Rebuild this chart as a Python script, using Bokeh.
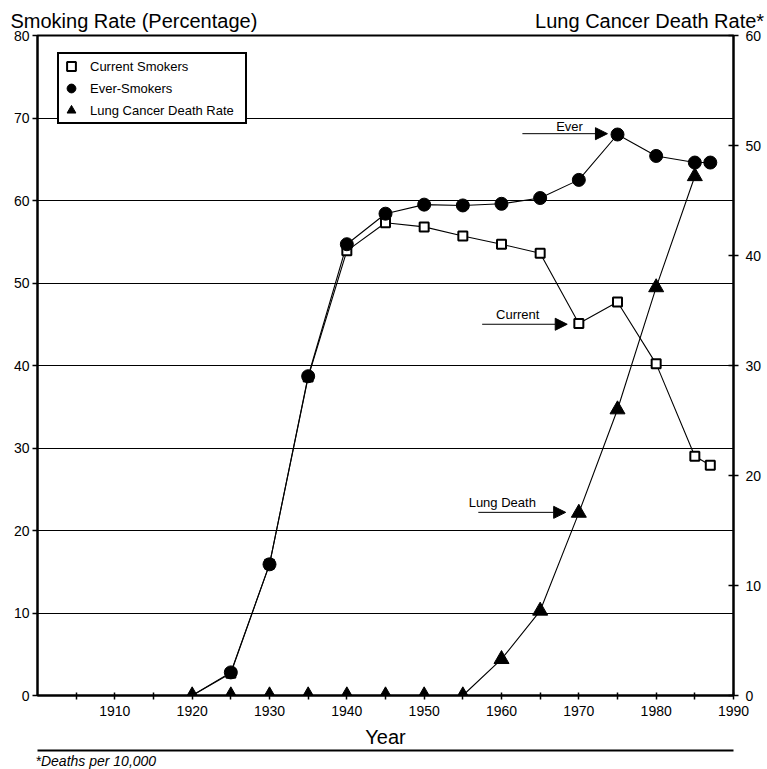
from bokeh.plotting import figure
from bokeh.models import (Range1d, LinearAxis, FixedTicker, Legend, LegendItem,
                          Label, Arrow, NormalHead, Title)
from bokeh.embed import file_html
from bokeh.resources import INLINE

# ---- data ----
years = [1920, 1925, 1930, 1935, 1940, 1945, 1950, 1955, 1960, 1965, 1970, 1975, 1980, 1985, 1987]
current_smokers = [0, 2.7, 15.9, 38.6, 53.9, 57.3, 56.8, 55.7, 54.7, 53.6, 45.1, 47.7, 40.2, 29.0, 27.9]
ever_smokers = [0, 2.8, 15.9, 38.7, 54.7, 58.4, 59.5, 59.4, 59.6, 60.3, 62.5, 68.0, 65.4, 64.6, 64.6]
death_years = [1920, 1925, 1930, 1935, 1940, 1945, 1950, 1955, 1960, 1965, 1970, 1975, 1980, 1985]
death_rate = [0, 0, 0, 0, 0, 0, 0, 0, 3.3, 7.7, 16.6, 26.0, 37.1, 47.2]

left_ticks = [0, 10, 20, 30, 40, 50, 60, 70, 80]
right_ticks = [0, 10, 20, 30, 40, 50, 60]
year_ticks = [1910, 1920, 1930, 1940, 1950, 1960, 1970, 1980, 1990]
year_minor_ticks = [1905, 1915, 1925, 1935, 1945, 1955, 1965, 1975, 1985]

series_names = ["Current Smokers", "Ever-Smokers", "Lung Cancer Death Rate"]
left_title = "Smoking Rate (Percentage)"
right_title = "Lung Cancer Death Rate*"
x_title = "Year"
footnote = "*Deaths per 10,000"

FONT = "Liberation Sans"

p = figure(width=767, height=769,
           x_range=Range1d(1900, 1990), y_range=Range1d(0, 80),
           output_backend="svg", toolbar_location=None,
           min_border_left=37, min_border_right=34,
           min_border_top=35, min_border_bottom=74)
p.background_fill_color = "white"
p.border_fill_color = "white"
p.outline_line_color = "black"
p.outline_line_width = 2
p.extra_y_ranges = {"lung": Range1d(0, 60)}

# top titles (left and right ends of one title row)
p.title.text = left_title + "\u00a0" * 50 + right_title
p.title.align = "left"
p.title.offset = -27
p.title.standoff = 8
p.title.text_font = FONT
p.title.text_font_size = "20px"
p.title.text_font_style = "normal"
p.title.text_color = "black"

# grid
p.xgrid.visible = False
p.ygrid.grid_line_color = "black"
p.ygrid.grid_line_width = 1
p.ygrid.ticker = FixedTicker(ticks=left_ticks)

# left axis
ly = p.yaxis[0]
ly.ticker = FixedTicker(ticks=left_ticks)
ly.axis_line_width = 2
ly.axis_line_color = "black"
ly.major_tick_in = 0
ly.major_tick_out = 5
ly.major_tick_line_width = 1.5
ly.minor_tick_line_color = None
ly.major_label_text_font = FONT
ly.major_label_text_font_size = "14px"
ly.major_label_text_color = "black"
ly.major_label_standoff = 3

# bottom axis
bx = p.xaxis[0]
bx.ticker = FixedTicker(ticks=year_ticks, minor_ticks=year_minor_ticks)
bx.axis_line_width = 2
bx.axis_line_color = "black"
bx.major_tick_in = 3
bx.major_tick_out = 4
bx.minor_tick_in = 3
bx.minor_tick_out = 4
bx.major_tick_line_width = 1.5
bx.minor_tick_line_width = 1.5
bx.minor_tick_line_color = "black"
bx.major_label_text_font = FONT
bx.major_label_text_font_size = "14px"
bx.major_label_text_color = "black"
bx.major_label_standoff = 6
bx.axis_label = x_title
bx.axis_label_text_font = FONT
bx.axis_label_text_font_size = "20px"
bx.axis_label_text_font_style = "normal"
bx.axis_label_text_color = "black"
bx.axis_label_standoff = 7

# rule under the x axis (an unlabeled axis line)
rule = LinearAxis(ticker=FixedTicker(ticks=[]))
rule.axis_line_width = 2
rule.axis_line_color = "black"
rule.major_tick_in = 0
rule.major_tick_out = 0
rule.minor_tick_line_color = None
rule.major_label_standoff = 0
p.add_layout(rule, "below")

# footnote
p.add_layout(Title(text=footnote, align="left", offset=-2, standoff=0,
                   text_font=FONT, text_font_size="14px", text_font_style="italic",
                   text_color="black"), "below")

# right axis
ry = LinearAxis(y_range_name="lung", ticker=FixedTicker(ticks=right_ticks))
ry.axis_line_width = 2
ry.axis_line_color = "black"
ry.major_tick_in = 5
ry.major_tick_out = 5
ry.major_tick_line_width = 1.5
ry.minor_tick_line_color = None
ry.major_label_text_font = FONT
ry.major_label_text_font_size = "14px"
ry.major_label_text_color = "black"
ry.major_label_standoff = 7
p.add_layout(ry, "right")

# lines
p.line(years, current_smokers, line_color="black", line_width=1.1)
p.line(years, ever_smokers, line_color="black", line_width=1.1)
p.line(death_years, death_rate, line_color="black", line_width=1.1, y_range_name="lung")

# markers (smoking markers start after the 1920 origin point)
sq = p.scatter(years[1:], current_smokers[1:], marker="square", size=9,
               fill_color="white", line_color="black", line_width=2)
ci = p.scatter(years[1:], ever_smokers[1:], marker="circle", size=13,
               fill_color="black", line_color="black")
tr = p.scatter(death_years, death_rate, marker="triangle", size=15,
               fill_color="black", line_color="black", y_range_name="lung")

legend = Legend(items=[LegendItem(label=series_names[0], renderers=[sq]),
                       LegendItem(label=series_names[1], renderers=[ci]),
                       LegendItem(label=series_names[2], renderers=[tr])],
                location=(20, 571), orientation="vertical",
                glyph_width=22, glyph_height=22, label_height=22,
                spacing=0, padding=1, margin=0, label_standoff=8, label_width=154,
                label_text_font=FONT, label_text_font_size="13px",
                label_text_color="black",
                border_line_color="black", border_line_width=2, border_line_alpha=1.0,
                background_fill_color="white", background_fill_alpha=1.0)
p.add_layout(legend)

# callout arrows + texts
callouts = [("Ever", 1968.8, 69.0, 1962.7, 1973.7, 68.1),
            ("Current", 1962.1, 46.2, 1957.5, 1968.5, 45.0),
            ("Lung Death", 1960.1, 23.4, 1957.0, 1968.3, 22.2)]
for txt, tx, ty, xs, xe, ya in callouts:
    p.add_layout(Arrow(end=NormalHead(size=12, fill_color="black", line_color="black"),
                       x_start=xs, y_start=ya, x_end=xe, y_end=ya,
                       line_color="black", line_width=1))
    p.add_layout(Label(x=tx, y=ty, text=txt, text_align="center", text_baseline="middle",
                       text_font=FONT, text_font_size="13px", text_color="black"))

open("out.html", "w").write(file_html(p, INLINE))
